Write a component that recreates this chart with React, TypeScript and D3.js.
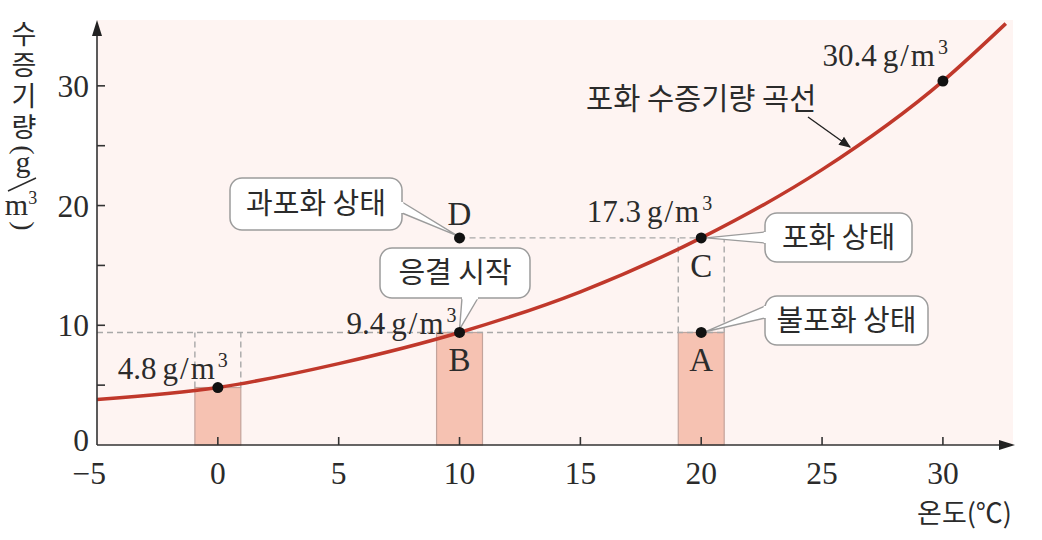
import React from "react";
import * as d3 from "d3";

// ---- data ----
const curveTemps = [-5, 0, 5, 10, 15, 20, 25, 30, 32.6];
const curveVapor = [3.8, 4.8, 6.8, 9.4, 12.8, 17.3, 23.0, 30.4, 35.2];

const pointTemps = [0, 10, 10, 20, 20, 30];
const pointVapor = [4.8, 9.4, 17.3, 17.3, 9.4, 30.4];
const pointLetters = ["", "B", "D", "C", "A", ""];

const barTemps = [0, 10, 20];
const barVapor = [4.8, 9.4, 9.4];

const xTickValues = [-5, 0, 5, 10, 15, 20, 25, 30];
const yTickValues = [0, 5, 10, 15, 20, 25, 30];
const yLabelValues = [0, 10, 20, 30];

const valueLabels = ["4.8", "9.4", "17.3", "30.4"];
const callouts = ["과포화 상태", "응결 시작", "포화 상태", "불포화 상태"];

const W = 1042;
const H = 540;
const SERIF = "'Liberation Serif', 'DejaVu Serif', serif";
const KR = "'Noto Sans CJK KR', 'Noto Sans', sans-serif";
const TXT = "#2b2b2b";

function Unit() {
  return (
    <>
      <tspan dx={6} letterSpacing={2}>g/m</tspan>
      <tspan fontSize={20} dy={-12} dx={1}>3</tspan>
    </>
  );
}

export default function App() {
  const x = d3.scaleLinear().domain([-5, 32.9]).range([97, 1013]);
  const y = d3.scaleLinear().domain([0, 35.5]).range([445, 20]);
  const halfW = 0.95;

  const curvePts: [number, number][] = curveTemps.map((t, i) => [t, curveVapor[i]]);
  const line = d3
    .line<[number, number]>()
    .x((d) => x(d[0]))
    .y((d) => y(d[1]))
    .curve(d3.curveMonotoneX);

  const x0 = x(-5);
  const y0 = y(0);

  // callout boxes (layout) and the data point each one points to
  const boxes = [
    { x: 230, y: 178, w: 172, h: 52, tip: [x(10) - 2, y(17.3) - 2], base: [[402, 202], [402, 213]] },
    { x: 380, y: 248, w: 150, h: 50, tip: [x(10), y(9.4) - 3], base: [[462, 298], [478, 298]] },
    { x: 765, y: 213, w: 147, h: 49, tip: [x(20) + 5, y(17.3)], base: [[765, 232], [765, 243]] },
    { x: 765, y: 296, w: 163, h: 49, tip: [x(20) + 5, y(9.4) - 1], base: [[765, 306], [765, 318]] },
  ];

  const dash = "6 4";
  const dashColor = "#a8a8a8";

  return (
    <svg
      width={W}
      height={H}
      style={{ position: "absolute", left: 0, top: 0, background: "#fff" }}
    >
      <defs>
        <marker
          id="arr"
          viewBox="0 0 10 10"
          refX="9"
          refY="5"
          markerWidth="12"
          markerHeight="12"
          markerUnits="userSpaceOnUse"
          orient="auto"
        >
          <path d="M0,1 L10,5 L0,9 Z" fill="#222" />
        </marker>
      </defs>

      {/* plot background */}
      <rect x={x0} y={y(35.5)} width={x(32.9) - x0} height={y0 - y(35.5)} fill="#fef4f2" />

      {/* bars */}
      {barTemps.map((t, i) => (
        <rect
          key={"b" + i}
          x={x(t - halfW)}
          y={y(barVapor[i])}
          width={x(t + halfW) - x(t - halfW)}
          height={y0 - y(barVapor[i])}
          fill="#f6c2b2"
          stroke="#c3a39b"
          strokeWidth={1.2}
        />
      ))}

      {/* dashed guide lines */}
      <g stroke={dashColor} strokeWidth={1.4} strokeDasharray={dash} fill="none">
        <line x1={x0} x2={x(20 + halfW)} y1={y(9.4)} y2={y(9.4)} />
        <line x1={x(10)} x2={x(20 + halfW)} y1={y(17.3)} y2={y(17.3)} />
        <line x1={x(0 - halfW)} x2={x(0 - halfW)} y1={y(4.8)} y2={y(9.4)} />
        <line x1={x(0 + halfW)} x2={x(0 + halfW)} y1={y(4.8)} y2={y(9.4)} />
        <line x1={x(20 - halfW)} x2={x(20 - halfW)} y1={y(9.4)} y2={y(17.3)} />
        <line x1={x(20 + halfW)} x2={x(20 + halfW)} y1={y(9.4)} y2={y(17.3)} />
      </g>

      {/* curve */}
      <path d={line(curvePts) || ""} fill="none" stroke="#c0382b" strokeWidth={3.5} />

      {/* axes */}
      <g stroke="#333" strokeWidth={1.6}>
        <line x1={x0} x2={x0} y1={y0} y2={26} />
        <line x1={x0} x2={1008} y1={y0} y2={y0} />
        {xTickValues.filter((t) => t > -5).map((t) => (
          <line key={"xt" + t} x1={x(t)} x2={x(t)} y1={y0} y2={y0 - 8} />
        ))}
        {yTickValues.filter((v) => v > 0).map((v) => (
          <line key={"yt" + v} x1={x0} x2={x0 + 8} y1={y(v)} y2={y(v)} />
        ))}
      </g>
      <path d={`M${x0},20 L${x0 - 5},36 L${x0 + 5},36 Z`} fill="#222" />
      <path d={`M1015,${y0} L999,${y0 - 5} L999,${y0 + 5} Z`} fill="#222" />

      {/* tick labels */}
      <g fontFamily={SERIF} fontSize={31.5} fill={TXT}>
        {xTickValues.map((t) => (
          <text
            key={"xl" + t}
            x={t < 0 ? x(t) + 9 : x(t)}
            y={484}
            textAnchor={t < 0 ? "end" : "middle"}
          >
            {t < 0 ? "\u2212" + Math.abs(t) : t}
          </text>
        ))}
        {yLabelValues.map((v) => (
          <text key={"yl" + v} x={89} y={y(v) + (v === 0 ? 6 : 11)} textAnchor="end">
            {v}
          </text>
        ))}
      </g>

      {/* y-axis title (vertical) */}
      <text
        x={24}
        y={20}
        fontFamily={KR}
        fontSize={27}
        fill={TXT}
        style={{ writingMode: "vertical-rl" as any, letterSpacing: "4px" }}
      >
        수증기량
      </text>
      <g fontFamily={SERIF} fill={TXT} textAnchor="middle">
        <text x={24} y={150} fontSize={28} transform="rotate(90 24 150)" dy={9}>
          (
        </text>
        <text x={23} y={172} fontSize={30}>
          g
        </text>
        <line x1={8} y1={191} x2={36} y2={178} stroke={TXT} strokeWidth={1.4} />
        <text x={21} y={215} fontSize={30}>
          m<tspan fontSize={18} dy={-11}>3</tspan>
        </text>
        <text x={24} y={226} fontSize={28} transform="rotate(90 24 226)" dy={9}>
          )
        </text>
      </g>

      {/* x-axis title */}
      <text x={1012} y={523} fontFamily={KR} fontSize={27} fill={TXT} textAnchor="end">
        온도(℃)
      </text>

      {/* value labels */}
      <g fontFamily={SERIF} fontSize={31} fill={TXT}>
        <text x={x(0) - 45} y={y(4.8) - 9} textAnchor="middle">
          {valueLabels[0]}
          <Unit />
        </text>
        <text x={x(10) - 3} y={y(9.4) + 2} textAnchor="end">
          {valueLabels[1]}
          <Unit />
        </text>
        <text x={x(20) + 11} y={y(17.3) - 16} textAnchor="end">
          {valueLabels[2]}
          <Unit />
        </text>
        <text x={x(30) + 5} y={y(30.4) - 15} textAnchor="end">
          {valueLabels[3]}
          <Unit />
        </text>
      </g>

      {/* curve name + arrow */}
      <text x={586} y={109} fontFamily={KR} fontSize={29.5} fill={TXT}>
        포화 수증기량 곡선
      </text>
      <line x1={808} y1={117} x2={850} y2={147} stroke="#222" strokeWidth={1.4} markerEnd="url(#arr)" />

      {/* callouts */}
      {boxes.map((b, i) => (
        <g key={"c" + i}>
          <rect x={b.x} y={b.y} width={b.w} height={b.h} rx={12} ry={12} fill="#fff" stroke="#9c9c9c" strokeWidth={1.5} />
          <path
            d={`M${b.base[0][0]},${b.base[0][1]} L${b.tip[0]},${b.tip[1]} L${b.base[1][0]},${b.base[1][1]}`}
            fill="#fff"
            stroke="#9c9c9c"
            strokeWidth={1.4}
          />
          <line
            x1={b.base[0][0]}
            y1={b.base[0][1]}
            x2={b.base[1][0]}
            y2={b.base[1][1]}
            stroke="#fff"
            strokeWidth={2.6}
          />
          <text
            x={b.x + b.w / 2}
            y={b.y + b.h / 2 + 10}
            fontFamily={KR}
            fontSize={29}
            fill={TXT}
            textAnchor="middle"
          >
            {callouts[i]}
          </text>
        </g>
      ))}

      {/* points */}
      {pointTemps.map((t, i) => (
        <circle key={"p" + i} cx={x(t)} cy={y(pointVapor[i])} r={5.5} fill="#111" />
      ))}

      {/* point letters */}
      <g fontFamily={SERIF} fontSize={33} fill={TXT} textAnchor="middle">
        {pointTemps.map((t, i) => {
          const L = pointLetters[i];
          if (!L) return null;
          const above = L === "D";
          return (
            <text key={"l" + i} x={x(t)} y={above ? y(pointVapor[i]) - 13 : y(pointVapor[i]) + 39}>
              {L}
            </text>
          );
        })}
      </g>
    </svg>
  );
}
